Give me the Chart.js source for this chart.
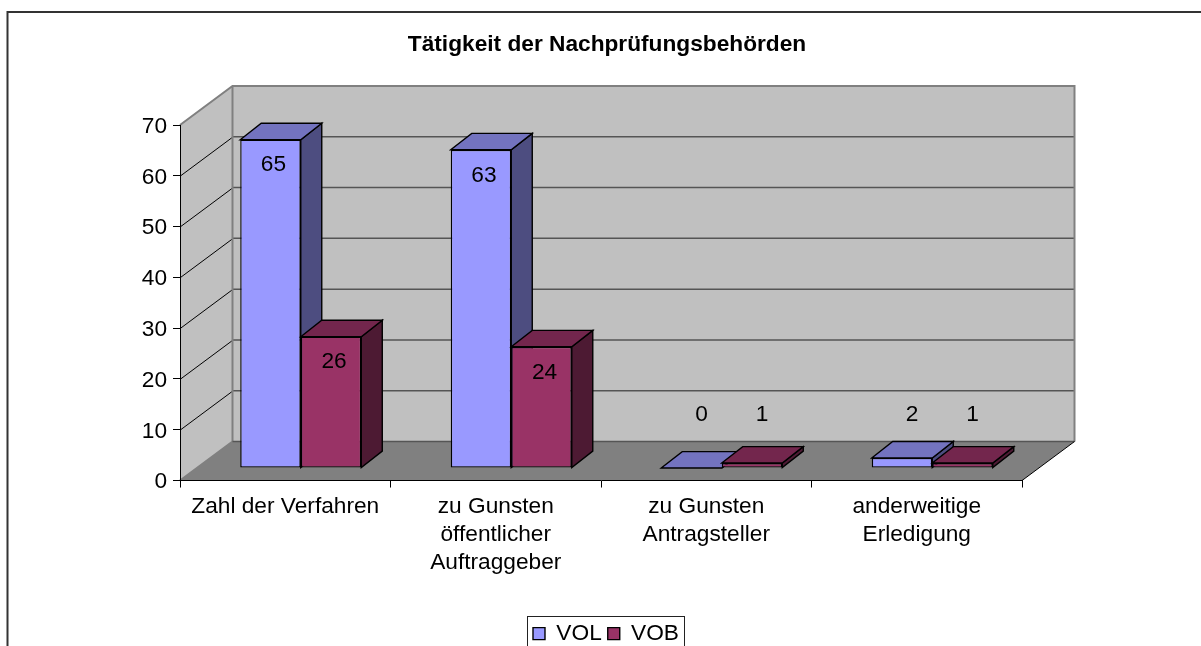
<!DOCTYPE html>
<html>
<head>
<meta charset="utf-8">
<style>
html,body{margin:0;padding:0;background:#fff;overflow:hidden;width:1201px;height:646px}
#wrap{position:absolute;left:0;top:0;width:1201px;height:646px;overflow:hidden}
</style>
<script src="https://cdn.jsdelivr.net/npm/chart.js@4/dist/chart.umd.min.js"></script>
</head>
<body>
<div id="wrap"><canvas id="c" width="1201" height="655"></canvas></div>
<script>
const titleText = 'Tätigkeit der Nachprüfungsbehörden';
const categories = ['Zahl der Verfahren', ['zu Gunsten','öffentlicher','Auftraggeber'], ['zu Gunsten','Antragsteller'], ['anderweitige','Erledigung']];
const seriesNames = ['VOL', 'VOB'];
const volValues = [65, 63, 0, 2];
const vobValues = [26, 24, 1, 1];
const yTicks = [0, 10, 20, 30, 40, 50, 60, 70];

const FONT = '"Liberation Sans", Arial, sans-serif';
const TEXT_SIZE = 22.7;
const WALL = {dx: 52.5, dy: -39};        // depth of the 3D box
const BAR = {dx: 15.5, dy: -12.5, k: 0.9945, depthX: 21, depthY: -16.5, line: 1.4}; // bar placement inside the box
const faces = {
  VOL: {front:'#9999FF', top:'#7373BF', side:'#4D4D80'},
  VOB: {front:'#993366', top:'#73264D', side:'#4D1A33'}
};
const SHORT_BAR_LIMIT = 10;   // labels of shorter bars float above them
const SHORT_LABEL_VALUE = 13.0;
const LEGEND_SHIFT = 1;
const Y_LABEL_NUDGE = 1.5;

function poly(ctx, pts, fill, stroke, lw){
  ctx.beginPath();
  pts.forEach((p,i)=> i? ctx.lineTo(p[0],p[1]) : ctx.moveTo(p[0],p[1]));
  ctx.closePath();
  if(fill){ctx.fillStyle=fill;ctx.fill();}
  if(stroke){ctx.strokeStyle=stroke;ctx.lineWidth=lw||1;ctx.stroke();}
}

const box3d = {
  id:'box3d',
  afterLayout(chart){
    const lg = chart.legend;
    lg.left -= LEGEND_SHIFT; lg.right -= LEGEND_SHIFT;
    (lg.legendHitBoxes||[]).forEach(h=>{h.left -= LEGEND_SHIFT;});
    const s = chart.scales.y, orig = s._computeLabelItems;
    if(!s._nudged){
      s._nudged = true;
      s._computeLabelItems = function(ca){
        const items = orig.call(this, ca);
        items.forEach(it=>{ it.options.translation[1] += Y_LABEL_NUDGE; });
        return items;
      };
      s._labelItems = null;
    }
  },
  beforeDraw(chart){
    const {ctx, chartArea:a, scales:{y}} = chart;
    const dx=WALL.dx, dy=WALL.dy;
    ctx.save();
    // outer frame, cut by the page on the right and at the bottom
    ctx.strokeStyle='#333333'; ctx.lineWidth=2;
    ctx.beginPath(); ctx.moveTo(7.5,660); ctx.lineTo(7.5,12); ctx.lineTo(1210,12); ctx.stroke();
    const L=a.left, R=a.right, T=a.top, B=a.bottom;
    // floor
    poly(ctx,[[L,B],[R,B],[R+dx,B+dy],[L+dx,B+dy]],'#808080');
    // left wall
    poly(ctx,[[L,B],[L+dx,B+dy],[L+dx,T+dy],[L,T]],'#C0C0C0');
    // back wall
    poly(ctx,[[L+dx,B+dy],[R+dx,B+dy],[R+dx,T+dy],[L+dx,T+dy]],'#C0C0C0');
    // grid
    yTicks.forEach(v=>{
      const py=y.getPixelForValue(v);
      if(v>0 && v<70){
        ctx.strokeStyle='#000'; ctx.lineWidth=1;
        ctx.beginPath(); ctx.moveTo(L,py+.5); ctx.lineTo(L+dx,py+dy+.5); ctx.stroke();
        ctx.strokeStyle='#555555'; ctx.lineWidth=1.5;
        ctx.beginPath(); ctx.moveTo(L+dx,py+dy); ctx.lineTo(R+dx,py+dy); ctx.stroke();
      }
    });
    // frame of the walls
    ctx.strokeStyle='#808080'; ctx.lineWidth=2;
    ctx.beginPath();
    ctx.moveTo(L,T); ctx.lineTo(L+dx,T+dy); ctx.lineTo(R+dx,T+dy); ctx.lineTo(R+dx,B+dy);
    ctx.moveTo(L+dx,T+dy); ctx.lineTo(L+dx,B+dy); ctx.lineTo(L,B);
    ctx.stroke();
    ctx.strokeStyle='#555555'; ctx.lineWidth=1.5;
    ctx.beginPath(); ctx.moveTo(L+dx,B+dy); ctx.lineTo(R+dx,B+dy); ctx.stroke();
    ctx.strokeStyle='#000'; ctx.lineWidth=1;
    ctx.beginPath(); ctx.moveTo(R,B); ctx.lineTo(R+dx,B+dy); ctx.stroke();
    ctx.restore();
    // legend frame
    const hb = chart.legend.legendHitBoxes;
    if(hb && hb.length){
      const l=hb[0].left-6, r=hb[hb.length-1].left+hb[hb.length-1].width+5;
      ctx.save(); ctx.strokeStyle='#222'; ctx.lineWidth=1;
      ctx.strokeRect(Math.round(l)+.5,616.5,Math.round(r-l),60);
      ctx.restore();
    }
  },
  beforeDatasetDraw(){ return false; },   // drawn below, first series first
  beforeDatasetsDraw(chart){
    const {ctx, chartArea:a} = chart;
    ctx.save();
    ctx.transform(1,0,0,BAR.k,BAR.dx,BAR.dy + a.bottom*(1-BAR.k));
    chart.data.datasets.forEach((ds,i)=>{
      const meta = chart.getDatasetMeta(i);
      const f = faces[ds.label];
      const ddx=BAR.depthX, ddy=BAR.depthY;
      meta.data.forEach(el=>{
        const p = el.getProps(['x','y','base','width'],true);
        const l=p.x-p.width/2, r=p.x+p.width/2, t=p.y, b=p.base;
        poly(ctx,[[r,t],[r+ddx,t+ddy],[r+ddx,b+ddy],[r,b]],f.side,'#000',BAR.line);
        poly(ctx,[[l,t],[l+ddx,t+ddy],[r+ddx,t+ddy],[r,t]],f.top,'#000',BAR.line);
      });
      meta.controller.draw();
    });
    ctx.restore();
  },
  afterDatasetsDraw(chart){
    const {ctx, scales:{y}} = chart;
    ctx.save();
    ctx.fillStyle='#000'; ctx.font=TEXT_SIZE+'px '+FONT;
    ctx.textAlign='center'; ctx.textBaseline='middle';
    chart.data.datasets.forEach((ds,i)=>{
      chart.getDatasetMeta(i).data.forEach((el,j)=>{
        const v=ds.data[j];
        const p=el.getProps(['x','y','base'],true);
        const barTop=p.y*BAR.k+BAR.dy+chart.chartArea.bottom*(1-BAR.k);
        if(v>=SHORT_BAR_LIMIT){
          ctx.fillText(String(v),p.x+BAR.dx+3,barTop+25.5);
        }else{
          ctx.fillText(String(v),p.x+BAR.dx+10,y.getPixelForValue(SHORT_LABEL_VALUE));
        }
      });
    });
    ctx.restore();
  }
};

new Chart(document.getElementById('c'),{
  type:'bar',
  data:{
    labels:categories,
    datasets:[
      {label:seriesNames[0],data:volValues,backgroundColor:faces.VOL.front,borderColor:'#000',borderWidth:BAR.line,borderSkipped:false,inflateAmount:0,clip:false,yAxisID:'y'},
      {label:seriesNames[1],data:vobValues,backgroundColor:faces.VOB.front,borderColor:'#000',borderWidth:BAR.line,borderSkipped:false,inflateAmount:0,clip:false,yAxisID:'y'}
    ]
  },
  plugins:[box3d],
  options:{
    responsive:false,
    animation:false,
    devicePixelRatio:1,
    layout:{padding:{left:13,right:0,top:0,bottom:0}},
    datasets:{bar:{categoryPercentage:0.575,barPercentage:1}},
    plugins:{
      tooltip:{enabled:false},
      title:{display:true,text:titleText,color:'#000',font:{family:FONT,size:TEXT_SIZE,weight:'bold',lineHeight:1.2},padding:{top:31,bottom:66.76}},
      legend:{display:true,position:'bottom',labels:{color:'#000',font:{family:FONT,size:TEXT_SIZE},boxWidth:12,boxHeight:12,padding:6}}
    },
    scales:{
      x:{
        type:'category',
        afterFit(s){s.height=135.76;},
        grid:{display:true,drawOnChartArea:false,drawTicks:true,tickLength:7,color:'#000',offset:true},
        border:{display:true,color:'#000',width:1},
        ticks:{color:'#000',font:{family:FONT,size:TEXT_SIZE,lineHeight:1.233},maxRotation:0,minRotation:0,autoSkip:false,padding:5}
      },
      y:{
        type:'linear',position:'left',min:0,max:70,
        afterFit(s){s.width=167;},
        afterBuildTicks(s){s.ticks=yTicks.map(v=>({value:v}));},
        grid:{display:true,drawOnChartArea:false,drawTicks:true,tickLength:7,color:'#000'},
        border:{display:true,color:'#000',width:1},
        ticks:{color:'#000',font:{family:FONT,size:TEXT_SIZE},padding:6}
      },
      yr:{
        type:'linear',position:'right',min:0,max:70,
        afterFit(s){s.width=179;},
        grid:{display:false},border:{display:false},ticks:{display:false}
      }
    }
  }
});
</script>
</body>
</html>
